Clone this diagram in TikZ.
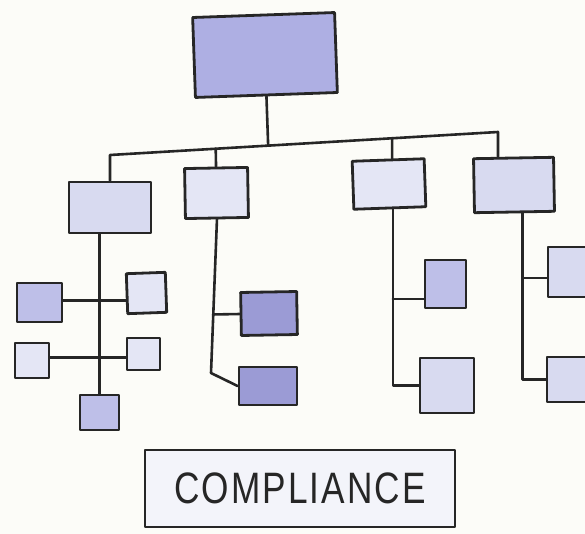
\documentclass[tikz,border=0pt]{standalone}
\usepackage{fontspec}
\setmainfont{Liberation Sans}
\usetikzlibrary{calc}
\definecolor{ink}{RGB}{38,38,38}
\definecolor{paper}{RGB}{252,252,248}
\definecolor{topc}{RGB}{174,175,227}
\definecolor{lite}{RGB}{216,218,240}
\definecolor{pale}{RGB}{228,230,245}
\definecolor{midc}{RGB}{190,191,232}
\definecolor{deep}{RGB}{155,155,213}
\definecolor{wash}{RGB}{243,244,250}
\tikzset{
  box/.style={draw=ink, line width=2.8pt, rectangle, inner sep=0pt, line join=round},
  wire/.style={draw=ink, line width=2.6pt, line cap=round, line join=round},
}
\begin{document}
\begin{tikzpicture}[x=1pt,y=-1pt]
\fill[paper] (0,0) rectangle (585,534);
\useasboundingbox (0,0) rectangle (585,534);
% top level
\node[box, fill=topc, minimum width=142pt, minimum height=80pt, rotate=2] (top) at (265,55) {};
% second level
\node[box, fill=lite, minimum width=82pt, minimum height=51pt] (b1) at (110,207.5) {};
\node[box, fill=pale, minimum width=63pt, minimum height=50pt, rotate=1] (b2) at (216.5,193) {};
\node[box, fill=pale, minimum width=72pt, minimum height=48pt, rotate=2] (b3) at (389,184) {};
\node[box, fill=lite, minimum width=80pt, minimum height=54pt, rotate=1] (b4) at (514,185) {};
% group 1
\node[box, fill=midc, minimum width=45pt, minimum height=39pt] (L1) at (39.5,302.5) {};
\node[box, fill=pale, minimum width=39pt, minimum height=40pt, rotate=2] (L2) at (146.5,293) {};
\node[box, fill=pale, minimum width=34pt, minimum height=35pt] (L3) at (32,360.5) {};
\node[box, fill=pale, minimum width=33pt, minimum height=32pt] (L4) at (143.5,354) {};
\node[box, fill=midc, minimum width=39pt, minimum height=35pt] (L5) at (99.5,412.5) {};
% group 2
\node[box, fill=deep, minimum width=56pt, minimum height=43pt, rotate=1] (b2a) at (269,313.5) {};
\node[box, fill=deep, minimum width=58pt, minimum height=38pt] (b2b) at (268,386) {};
% group 3
\node[box, fill=midc, minimum width=41pt, minimum height=48pt] (b3a) at (445.5,284) {};
\node[box, fill=lite, minimum width=54pt, minimum height=55pt] (b3b) at (447,385.5) {};
% group 4
\node[box, fill=lite, minimum width=47pt, minimum height=50pt] (b4a) at (571.5,272) {};
\node[box, fill=lite, minimum width=48pt, minimum height=45pt] (b4b) at (571,379.5) {};
% bus
\coordinate (busL) at (110,155);
\coordinate (busR) at (498,132);
\draw[wire] (b1.north) -- (busL) -- (busR) -- (busR |- b4.north);
\draw[wire] (top.south) -- (intersection of top.south--top.north and busL--busR);
\draw[wire] (b2.north) -- (intersection of b2.north--b2.south and busL--busR);
\coordinate (d3) at ($(b3.north)+(4,0)$);
\coordinate (d3u) at ($(b3.north)+(4,-20)$);
\draw[wire] (d3) -- (intersection of d3--d3u and busL--busR);
% group 1 wires
\draw[wire] (b1.south -| L5.north) -- (L5.north);
\coordinate (j1) at ($(L1.east)+(0,-2)$);
\draw[wire] (j1) -- (j1 -| L2.west);
\coordinate (j2) at ($(L3.east)+(0,-3)$);
\draw[wire] (j2) -- (j2 -| L4.west);
% group 2 wires
\coordinate (s2) at (211,373);
\draw[wire] (b2.south) -- (s2) -- (b2b.west);
\draw[wire] (intersection of b2.south--s2 and b2a.west--b2a.east) -- (b2a.west);
% group 3 wires
\coordinate (s3) at ($(b3.south)+(3,0)$);
\draw[wire] (s3) -- (s3 |- b3b.west) -- (b3b.west);
\coordinate (j3) at ($(b3a.west)+(0,15)$);
\draw[wire] (s3 |- j3) -- (j3);
% group 4 wires
\coordinate (s4) at ($(b4.south)+(8,0)$);
\draw[wire] (s4) -- (s4 |- b4b.west) -- (b4b.west);
\coordinate (j4) at ($(b4a.west)+(0,6)$);
\draw[wire] (s4 |- j4) -- (j4);
% caption
\node[box, fill=wash, minimum width=310pt, minimum height=77pt, text=ink] (comp) at (300,488.5)
  {\scalebox{0.88}[1.1]{\fontsize{40}{40}\selectfont\addfontfeature{LetterSpace=6}COMPLIANCE}};
\end{tikzpicture}
\end{document}
